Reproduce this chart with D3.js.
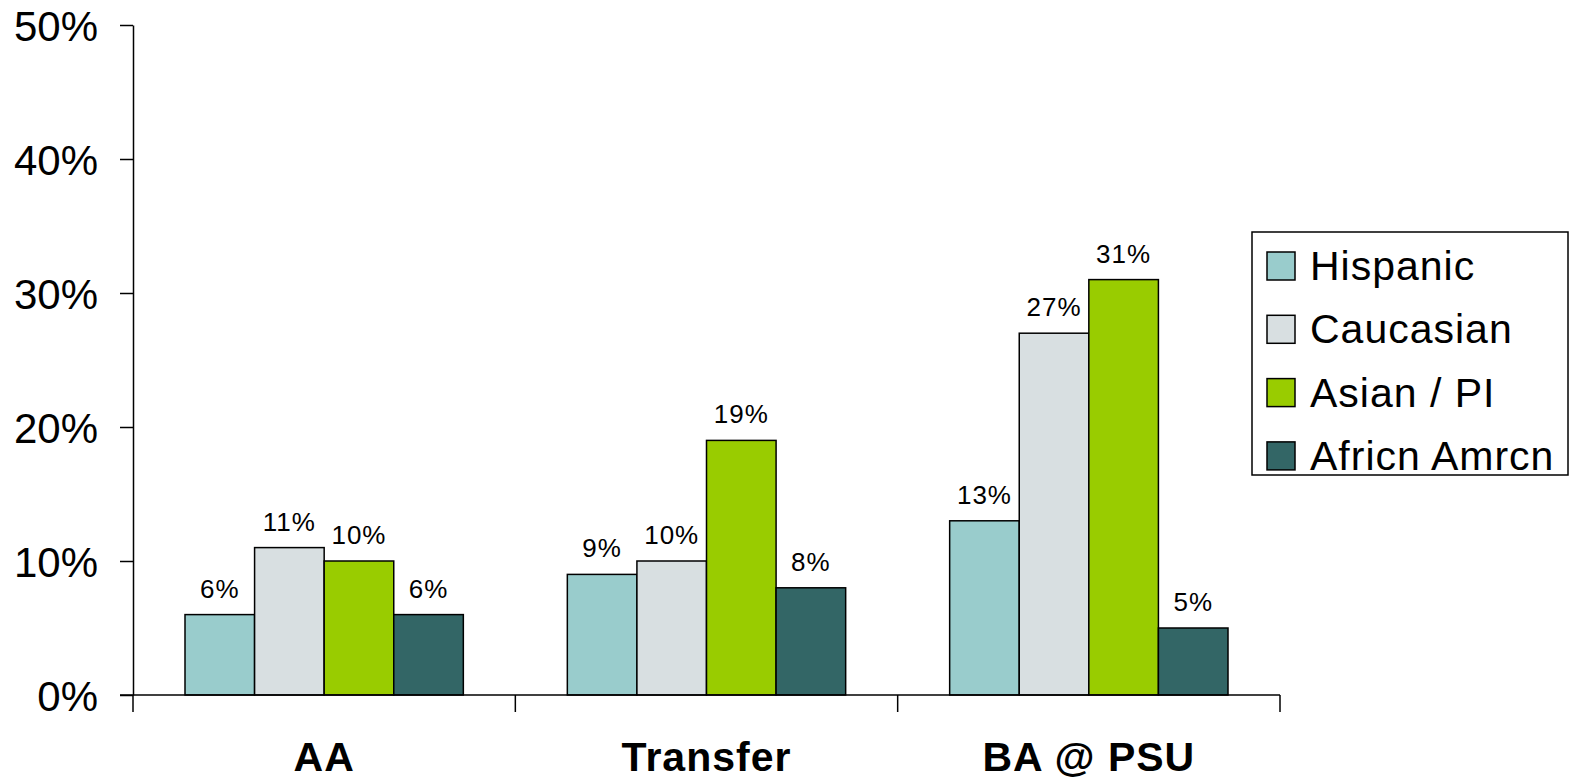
<!DOCTYPE html>
<html>
<head>
<meta charset="utf-8">
<script src="https://cdn.jsdelivr.net/npm/d3@7"></script>
<style>
  body { margin: 0; background: #fff; overflow: hidden; }
  svg { display: block; }
  text { font-family: "Liberation Sans", Arial, sans-serif; }
</style>
</head>
<body>
<div id="app"></div>
<script>
// chart data
const CATEGORIES = ['AA', 'Transfer', 'BA @ PSU'];
const SERIES = ['Hispanic', 'Caucasian', 'Asian / PI', 'Africn Amrcn'];
const HISPANIC = [0.06, 0.09, 0.13];
const CAUCASIAN = [0.11, 0.10, 0.27];
const ASIAN_PI = [0.10, 0.19, 0.31];
const AFRICN_AMRCN = [0.06, 0.08, 0.05];
const Y_TICKS = [0, 0.1, 0.2, 0.3, 0.4, 0.5];

const COLORS = ['#99cccc', '#d8dfe1', '#99cc00', '#336666'];

const width = 1572;
const height = 782;
const plot = {left: 133, right: 1280, top: 25, bottom: 695};

const svg = d3.select('#app')
  .append('svg')
  .attr('width', width)
  .attr('height', height);

const seriesValues = [HISPANIC, CAUCASIAN, ASIAN_PI, AFRICN_AMRCN];
const rows = CATEGORIES.map((c, i) => ({
  category: c,
  values: SERIES.map((s, j) => ({key: s, idx: j, value: seriesValues[j][i]}))
}));

// scales
const x0 = d3.scaleBand()
  .domain(CATEGORIES)
  .range([plot.left, plot.right])
  .padding(0);

const x1 = d3.scaleBand()
  .domain(SERIES)
  .range([52, x0.bandwidth() - 52])
  .padding(0);

const y = d3.scaleLinear()
  .domain([0, 0.5])
  .range([plot.bottom, plot.top]);

const color = d3.scaleOrdinal().domain(SERIES).range(COLORS);

// y axis
const yAxis = svg.append('g')
  .attr('transform', `translate(${plot.left}, 0)`)
  .call(d3.axisLeft(y).tickValues(Y_TICKS).tickFormat(d3.format('.0%')).tickSize(13).tickSizeOuter(0).tickPadding(22));
yAxis.select('.domain').attr('stroke', '#000').attr('stroke-width', 1.5);
yAxis.selectAll('.tick line').attr('stroke', '#000').attr('stroke-width', 1.5);
yAxis.selectAll('.tick text')
  .attr('fill', '#000')
  .style('font-size', '42px')
  .attr('dy', '0.36em');

// bars
const groups = svg.append('g')
  .selectAll('g')
  .data(rows)
  .join('g')
  .attr('transform', d => `translate(${x0(d.category)}, 0)`);

groups.selectAll('rect')
  .data(d => d.values)
  .join('rect')
  .attr('x', d => x1(d.key))
  .attr('y', d => y(d.value))
  .attr('width', x1.bandwidth())
  .attr('height', d => y(0) - y(d.value))
  .attr('fill', d => color(d.key))
  .attr('stroke', '#000')
  .attr('stroke-width', 1.5);

groups.selectAll('text.val')
  .data(d => d.values)
  .join('text')
  .attr('class', 'val')
  .attr('x', d => x1(d.key) + x1.bandwidth() / 2)
  .attr('y', d => y(d.value) - 17)
  .attr('text-anchor', 'middle')
  .style('font-size', '26px')
  .style('letter-spacing', '1px')
  .text(d => d3.format('.0%')(d.value));

// x axis
const xAxis = svg.append('g');
xAxis.append('line')
  .attr('x1', plot.left - 13)
  .attr('x2', plot.right)
  .attr('y1', y(0))
  .attr('y2', y(0))
  .attr('stroke', '#000')
  .attr('stroke-width', 1.5);

const bounds = CATEGORIES.map(c => x0(c)).concat([x0.range()[1]]);
xAxis.selectAll('line.sep')
  .data(bounds)
  .join('line')
  .attr('class', 'sep')
  .attr('x1', d => d)
  .attr('x2', d => d)
  .attr('y1', y(0))
  .attr('y2', y(0) + 17)
  .attr('stroke', '#000')
  .attr('stroke-width', 1.5);

// category labels sit right at the bottom edge, keep descenders inside
xAxis.selectAll('text')
  .data(CATEGORIES)
  .join('text')
  .attr('x', d => x0(d) + x0.bandwidth() / 2)
  .attr('y', 771)
  .attr('text-anchor', 'middle')
  .style('font-size', '41px')
  .style('font-weight', 'bold')
  .style('letter-spacing', '1px')
  .text(d => d);

// legend
const legend = svg.append('g')
  .attr('transform', 'translate(1252, 232)');

legend.append('rect')
  .attr('width', 316)
  .attr('height', 243)
  .attr('fill', '#fff')
  .attr('stroke', '#000')
  .attr('stroke-width', 1.5);

const items = legend.selectAll('g')
  .data(SERIES)
  .join('g')
  .attr('transform', (d, i) => `translate(15, ${20 + i * 63.3})`);

items.append('rect')
  .attr('width', 28)
  .attr('height', 28)
  .attr('fill', d => color(d))
  .attr('stroke', '#000')
  .attr('stroke-width', 1.5);

items.append('text')
  .attr('x', 43)
  .attr('y', 28)
  .style('font-size', '41px')
  .style('letter-spacing', '1px')
  .text(d => d);
</script>
</body>
</html>
